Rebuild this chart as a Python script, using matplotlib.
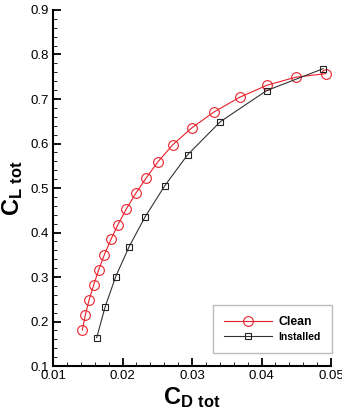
import matplotlib
matplotlib.use("Agg")
import matplotlib.pyplot as plt
from matplotlib.ticker import MultipleLocator

plt.rcParams["font.family"] = ["Liberation Sans", "DejaVu Sans"]
plt.rcParams["mathtext.fontset"] = "custom"
plt.rcParams["mathtext.rm"] = "Liberation Sans"
plt.rcParams["mathtext.bf"] = "Liberation Sans:bold"

# Clean configuration
cd_clean = [0.01422, 0.01465, 0.01518, 0.01585, 0.01657, 0.01738, 0.01835,
            0.01935, 0.02055, 0.0219, 0.02338, 0.0251, 0.02722, 0.02995,
            0.03317, 0.03686, 0.04079, 0.04492, 0.04924]
cl_clean = [0.181, 0.215, 0.248, 0.282, 0.316, 0.350, 0.385, 0.418, 0.453,
            0.488, 0.522, 0.559, 0.597, 0.635, 0.671, 0.704, 0.731, 0.749,
            0.757]

# Installed configuration
cd_inst = [0.01629, 0.01748, 0.01902, 0.02094, 0.02324, 0.02607, 0.02938,
           0.03407, 0.04074, 0.04885]
cl_inst = [0.164, 0.232, 0.301, 0.368, 0.435, 0.505, 0.575, 0.649, 0.719,
           0.768]

fig = plt.figure(figsize=(3.42, 4.16), dpi=100)
ax = fig.add_axes([0.155, 0.120, 0.813, 0.856])

ax.plot(cd_clean, cl_clean, color="#e8202a", lw=0.8, marker="o", ms=7,
        mfc="none", mec="#e8202a", mew=0.8, label="Clean")
ax.plot(cd_inst, cl_inst, color="#333333", lw=0.8, marker="s", ms=4.5,
        mfc="none", mec="#222222", mew=0.8, label="Installed")

ax.set_xlim(0.01, 0.05)
ax.set_ylim(0.1, 0.9)
ax.xaxis.set_major_locator(MultipleLocator(0.01))
ax.xaxis.set_minor_locator(MultipleLocator(0.002))
ax.yaxis.set_major_locator(MultipleLocator(0.1))
ax.yaxis.set_minor_locator(MultipleLocator(0.02))
ax.xaxis.set_major_formatter(plt.FuncFormatter(lambda v, p: f"{v:g}"))
ax.yaxis.set_major_formatter(plt.FuncFormatter(lambda v, p: f"{v:g}"))

for s in ["top", "right"]:
    ax.spines[s].set_visible(False)
for s in ["left", "bottom"]:
    ax.spines[s].set_linewidth(1.5)
ax.tick_params(which="major", direction="in", length=6, width=1.3,
               labelsize=9.5, pad=3)
ax.tick_params(which="minor", direction="in", length=3, width=0.6)

ax.set_xlabel(r"$\mathbf{C_{D\ tot}}$", fontsize=17, labelpad=2)
ax.set_ylabel(r"$\mathbf{C_{L\ tot}}$", fontsize=17, labelpad=4)

leg = ax.legend(loc="lower right", bbox_to_anchor=(1.004, 0.0365),
                fontsize=7.5, handlelength=4.6, frameon=True, fancybox=False,
                edgecolor="#aaaaaa", borderpad=1.1, labelspacing=0.35,
                handletextpad=0.6, borderaxespad=0)
leg.get_frame().set_linewidth(1.0)
for t in leg.get_texts():
    t.set_fontweight("bold")
leg.get_texts()[0].set_fontsize(8.8)

fig.savefig("out.png", dpi=100)
